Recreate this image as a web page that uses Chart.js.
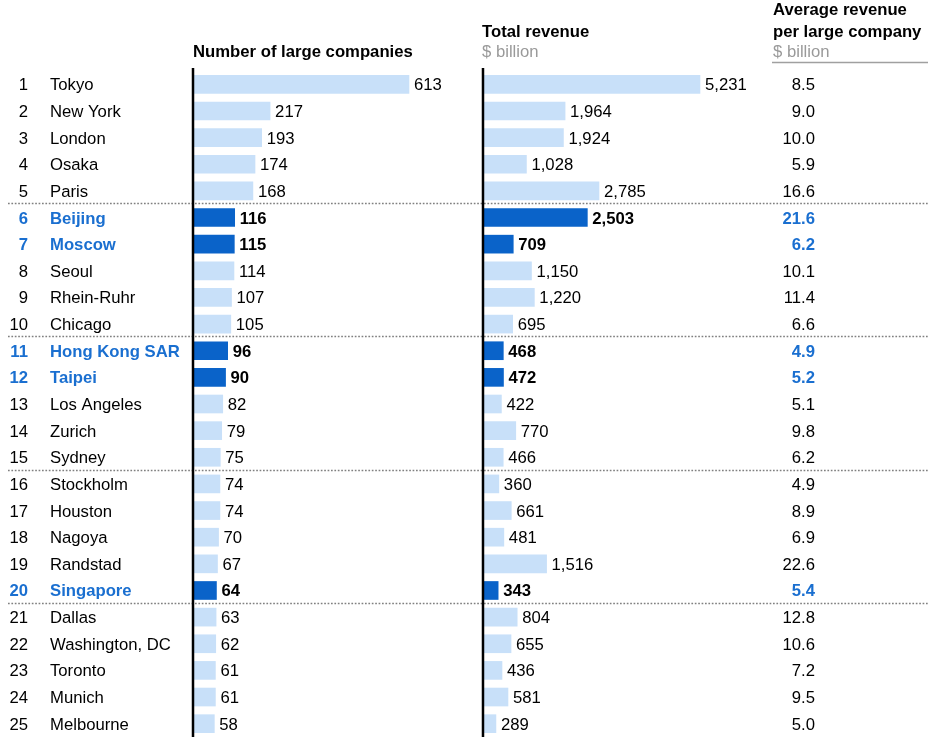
<!DOCTYPE html>
<html>
<head>
<meta charset="utf-8">
<script src="https://cdn.jsdelivr.net/npm/chart.js@4"></script>
<style>
  body { margin: 0; background: #fff; }
  canvas { display: block; }
</style>
</head>
<body>
<canvas id="cityChart" width="928" height="737"></canvas>
<script>
// ======================================================
// Cities ranked by number of large companies
// ======================================================

const cities = [
    "Tokyo", "New York", "London", "Osaka", "Paris",
    "Beijing", "Moscow", "Seoul", "Rhein-Ruhr", "Chicago",
    "Hong Kong SAR", "Taipei", "Los Angeles", "Zurich", "Sydney",
    "Stockholm", "Houston", "Nagoya", "Randstad", "Singapore",
    "Dallas", "Washington, DC", "Toronto", "Munich", "Melbourne"
];

const largeCompanies = [
    613, 217, 193, 174, 168,
    116, 115, 114, 107, 105,
    96, 90, 82, 79, 75,
    74, 74, 70, 67, 64,
    63, 62, 61, 61, 58
];

// $ billion
const totalRevenue = [
    5231, 1964, 1924, 1028, 2785,
    2503, 709, 1150, 1220, 695,
    468, 472, 422, 770, 466,
    360, 661, 481, 1516, 343,
    804, 655, 436, 581, 289
];

// $ billion per large company
const avgRevenue = [
    8.5, 9.0, 10.0, 5.9, 16.6,
    21.6, 6.2, 10.1, 11.4, 6.6,
    4.9, 5.2, 5.1, 9.8, 6.2,
    4.9, 8.9, 6.9, 22.6, 5.4,
    12.8, 10.6, 7.2, 9.5, 5.0
];

const highlighted = ["Beijing", "Moscow", "Hong Kong SAR", "Taipei", "Singapore"];


// ===========================
// Colours and fonts
// ===========================
const LIGHT_BAR = "#c8e0f9";
const DARK_BAR = "#0a63c9";
const BLUE_TEXT = "#1a6fd0";
const GREY_TEXT = "#9a9a9a";
const FONT = "16.7px 'Liberation Sans', Arial, sans-serif";
const FONT_BOLD = "bold 16.7px 'Liberation Sans', Arial, sans-serif";

const isHl = i => highlighted.includes(cities[i]);
const barColors = cities.map((c, i) => isHl(i) ? DARK_BAR : LIGHT_BAR);


// ============================
// Text, separators and axis lines
// ============================
const tablePlugin = {
    id: "tableText",
    afterDraw(chart) {
        const ctx = chart.ctx;
        const yS = chart.scales.y;
        const x1 = chart.scales.x1;
        const x2 = chart.scales.x2;
        const right = chart.width;

        ctx.save();

        // headers
        ctx.textAlign = "left";
        ctx.textBaseline = "alphabetic";
        ctx.fillStyle = "#000";
        ctx.font = FONT_BOLD;
        ctx.fillText("Number of large companies", 193, 57);
        ctx.fillText("Total revenue", 482, 37);
        ctx.fillText("Average revenue", 773, 15);
        ctx.fillText("per large company", 773, 37);
        ctx.font = FONT;
        ctx.fillStyle = GREY_TEXT;
        ctx.fillText("$ billion", 482, 57);
        ctx.fillText("$ billion", 773, 57);

        ctx.strokeStyle = "#a0a0a0";
        ctx.lineWidth = 1.5;
        ctx.beginPath();
        ctx.moveTo(772, 62.5);
        ctx.lineTo(right, 62.5);
        ctx.stroke();

        // rows
        cities.forEach((city, i) => {
            const cy = yS.getPixelForValue(i) + 6;
            const hl = isHl(i);
            ctx.font = hl ? FONT_BOLD : FONT;

            ctx.fillStyle = hl ? BLUE_TEXT : "#000";
            ctx.textAlign = "right";
            ctx.fillText(String(i + 1), 28, cy);
            ctx.textAlign = "left";
            ctx.fillText(city, 50, cy);

            ctx.fillStyle = "#000";
            ctx.fillText(String(largeCompanies[i]), x1.getPixelForValue(largeCompanies[i]) + 5, cy);
            ctx.fillText(totalRevenue[i].toLocaleString("en-US"), x2.getPixelForValue(totalRevenue[i]) + 5, cy);

            ctx.fillStyle = hl ? BLUE_TEXT : "#000";
            ctx.textAlign = "right";
            ctx.fillText(avgRevenue[i].toFixed(1), 815, cy);
        });

        // dotted separators every 5 rows
        ctx.strokeStyle = "#808080";
        ctx.lineWidth = 1.6;
        ctx.setLineDash([1.7, 1.7]);
        [4, 9, 14, 19].forEach(i => {
            const sy = Math.round((yS.getPixelForValue(i) + yS.getPixelForValue(i + 1)) / 2) - 0.5;
            ctx.beginPath();
            ctx.moveTo(8, sy);
            ctx.lineTo(right, sy);
            ctx.stroke();
        });
        ctx.setLineDash([]);

        // baseline axis lines
        ctx.strokeStyle = "#000";
        ctx.lineWidth = 2.5;
        [x1.getPixelForValue(0) - 1, x2.getPixelForValue(0) - 1].forEach(ax => {
            ctx.beginPath();
            ctx.moveTo(ax, 68);
            ctx.lineTo(ax, chart.height);
            ctx.stroke();
        });

        ctx.restore();
    }
};


// ============================
// Build chart
// ============================
const canvas = document.getElementById("cityChart");

new Chart(canvas, {
    type: "bar",
    data: {
        labels: cities,
        datasets: [
            {
                label: "Number of large companies",
                data: largeCompanies,
                xAxisID: "x1",
                backgroundColor: barColors,
                grouped: false,
                barThickness: 18
            },
            {
                label: "Total revenue",
                data: totalRevenue,
                xAxisID: "x2",
                backgroundColor: barColors,
                grouped: false,
                barThickness: 18
            }
        ]
    },
    options: {
        indexAxis: "y",
        responsive: false,
        animation: false,
        events: [],
        layout: { padding: { left: 194, top: 71, right: 0, bottom: 0 } },
        plugins: {
            legend: { display: false },
            tooltip: { enabled: false }
        },
        scales: {
            // 0 at the left edge, 613 ends ~215px further right
            x1: { type: "linear", display: false, min: 0, max: 2093 },
            // shifted so that 0 lands on the second baseline
            x2: { type: "linear", display: false, min: -7023, max: 10753 },
            y: { type: "category", display: false }
        }
    },
    plugins: [tablePlugin]
});
</script>
</body>
</html>
